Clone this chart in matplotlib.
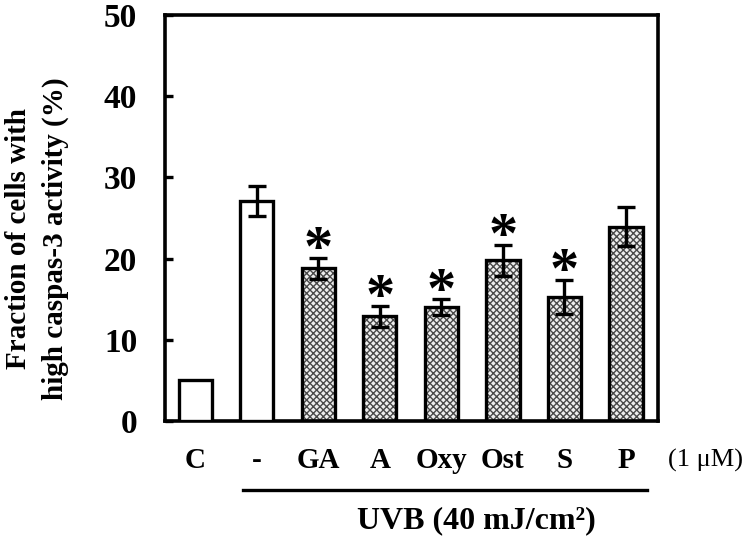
import matplotlib
matplotlib.use("Agg")
import matplotlib.pyplot as plt
import numpy as np

categories = ["C", "-", "GA", "A", "Oxy", "Ost", "S", "P"]
values = [5.0, 27.1, 18.8, 12.9, 14.0, 19.8, 15.3, 23.9]
errors = [0.0, 1.9, 1.3, 1.3, 1.0, 1.9, 2.1, 2.4]
hatched = [False, False, True, True, True, True, True, True]
significant = [False, False, True, True, True, True, True, False]
yticks = [0, 10, 20, 30, 40, 50]

W, H = 751, 546
fig = plt.figure(figsize=(W / 100, H / 100), dpi=100)
ax = fig.add_axes([165 / W, 1 - 421 / H, (658 - 165) / W, (421 - 15) / H])

serif = ["Liberation Serif", "DejaVu Serif"]
x = np.arange(len(categories))
bw = 0.54
for xi, v, h in zip(x, values, hatched):
    if h:
        ax.bar(xi, v, bw, facecolor="#eeeeee", edgecolor="#4a4a4a", hatch="xxxxx",
               linewidth=0, zorder=2)
    ax.bar(xi, v, bw, facecolor="none" if h else "white", edgecolor="black",
           linewidth=2.4, zorder=3)

for xi, v, e in zip(x, values, errors):
    if e > 0:
        ax.errorbar(xi, v, yerr=e, fmt="none", ecolor="black", elinewidth=2.4,
                    capsize=6.5, capthick=2.4, zorder=4)

for xi, v, e, s in zip(x, values, errors, significant):
    if s:
        ax.annotate("*", xy=(xi, v + e), xytext=(0, -14), textcoords="offset points",
                    ha="center", va="bottom", fontsize=42, fontweight="bold",
                    family=serif, zorder=5)

ax.set_xlim(-0.49, 7.52)
ax.set_ylim(0, 50)
ax.set_yticks(yticks)
ax.set_yticklabels([str(t) for t in yticks], fontsize=24, fontweight="bold", family=serif)
ax.tick_params(axis="y", direction="in", length=6, width=2.4, pad=20)
ax.set_xticks([])
for sp in ax.spines.values():
    sp.set_linewidth(2.6)

ax.set_ylabel("Fraction of cells with\nhigh caspas-3 activity (%)", fontsize=21,
              fontweight="bold", family=serif, linespacing=1.45, va="center")
ax.yaxis.set_label_coords(-(165 - 37) / (658 - 165), 0.45)

for xi, c in zip(x, categories):
    ax.annotate(c, xy=(xi, 0), xycoords=("data", "axes fraction"), xytext=(0, -40),
                textcoords="offset pixels", ha="center", va="center", fontsize=21,
                fontweight="bold", family=serif)
ax.annotate("(1 \u03bcM)", xy=(706 / W, 1 - 460 / H), xycoords="figure fraction",
            ha="center", va="center", fontsize=19, family=serif)

fig.add_artist(plt.Line2D([243 / W, 647 / W], [1 - 490 / H, 1 - 490 / H],
                          color="black", linewidth=2.4, transform=fig.transFigure))
fig.text(476 / W, 1 - 521 / H, "UVB (40 mJ/cm\u00b2)", ha="center", va="center",
         fontsize=23, fontweight="bold", family=serif)

fig.savefig("out.png", dpi=100)
